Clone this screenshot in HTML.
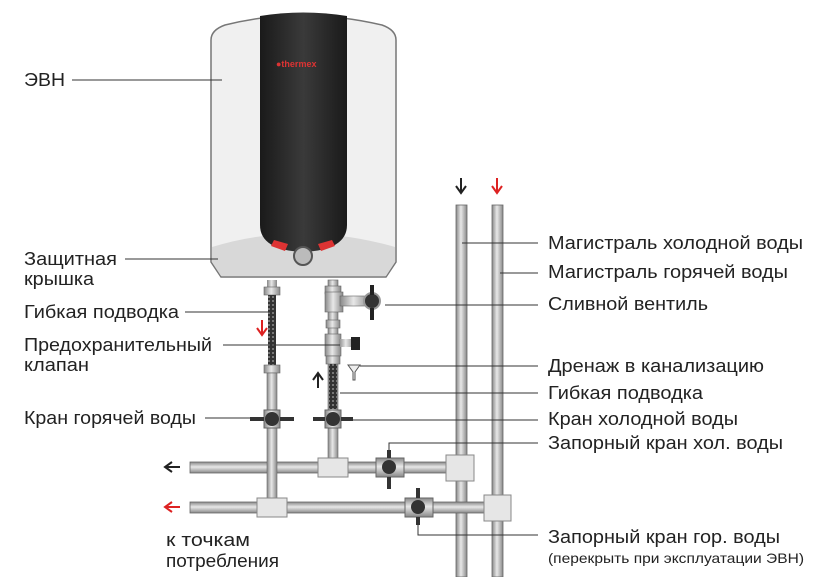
<!DOCTYPE html><html><head><meta charset="utf-8"><style>
body{margin:0;background:#fff;width:830px;height:577px;overflow:hidden}
svg{display:block}
text{font-family:"Liberation Sans",sans-serif;font-size:18px;fill:#222}
</style></head><body>
<svg width="830" height="577" viewBox="0 0 830 577">
<defs>
<linearGradient id="pv" x1="0" x2="1"><stop offset="0" stop-color="#888"/><stop offset=".45" stop-color="#e8e8e8"/><stop offset="1" stop-color="#888"/></linearGradient>
<linearGradient id="ph" x1="0" y1="0" x2="0" y2="1"><stop offset="0" stop-color="#888"/><stop offset=".45" stop-color="#e8e8e8"/><stop offset="1" stop-color="#888"/></linearGradient>
<linearGradient id="dk" x1="0" x2="1"><stop offset="0" stop-color="#1a1a1a"/><stop offset=".5" stop-color="#3a3a3a"/><stop offset="1" stop-color="#1a1a1a"/></linearGradient>
<pattern id="br" width="4" height="4" patternUnits="userSpaceOnUse"><rect width="4" height="4" fill="#333"/><rect width="2" height="2" fill="#777"/></pattern>
</defs>
<!-- heater -->
<path d="M211 40 Q211 30 225 25 Q300 6 382 25 Q396 30 396 40 L396 262 L386 277 L221 277 L211 262 Z" fill="#f0f0f0" stroke="#777" stroke-width="1.5"/>
<path d="M212 247 Q300 220 395 247 L395 262 L386 276 L221 276 L212 262 Z" fill="#d8d8d8"/>
<path d="M260 16 Q303 9 347 16 L347 225 Q347 250 303 252 Q260 250 260 225 Z" fill="url(#dk)"/>
<text x="276" y="67" style="font-size:9px;fill:#d33;font-weight:bold">●thermex</text>
<polygon points="274,240 288,244 285,251 271,246" fill="#d33"/>
<polygon points="318,244 332,240 335,246 321,251" fill="#d33"/>
<circle cx="303" cy="256" r="9" fill="#bbb" stroke="#555" stroke-width="2"/>
<!-- main pipes -->
<rect x="456" y="205" width="11" height="372" fill="url(#pv)" stroke="#666" stroke-width=".8"/>
<rect x="492" y="205" width="11" height="372" fill="url(#pv)" stroke="#666" stroke-width=".8"/>
<!-- horizontal pipes -->
<rect x="190" y="462" width="270" height="11" fill="url(#ph)" stroke="#666" stroke-width=".8"/>
<rect x="190" y="502" width="305" height="11" fill="url(#ph)" stroke="#666" stroke-width=".8"/>
<!-- hot outlet vertical -->
<rect x="267" y="280" width="10" height="8" fill="url(#pv)"/>
<rect x="264" y="287" width="16" height="8" fill="url(#pv)" stroke="#666" stroke-width=".6"/>
<rect x="268" y="295" width="8" height="72" fill="url(#br)"/>
<rect x="264" y="365" width="16" height="8" fill="url(#pv)" stroke="#666" stroke-width=".6"/>
<rect x="267" y="373" width="10" height="130" fill="url(#pv)" stroke="#666" stroke-width=".6"/>
<!-- cold inlet vertical -->
<rect x="328" y="280" width="10" height="185" fill="url(#pv)" stroke="#666" stroke-width=".6"/>
<rect x="325" y="286" width="16" height="8" fill="url(#pv)" stroke="#666" stroke-width=".6"/>
<rect x="325" y="292" width="18" height="20" fill="url(#pv)" stroke="#666" stroke-width=".6"/>
<rect x="340" y="296" width="30" height="10" fill="url(#pv)" stroke="#666" stroke-width=".6"/>
<rect x="326" y="320" width="14" height="8" fill="url(#pv)" stroke="#666" stroke-width=".6"/>
<rect x="325" y="334" width="16" height="22" fill="url(#pv)" stroke="#666" stroke-width=".6"/>
<rect x="339" y="339" width="15" height="8" fill="url(#pv)"/>
<rect x="351" y="337" width="9" height="13" fill="#222"/>
<rect x="326" y="356" width="14" height="8" fill="url(#pv)" stroke="#666" stroke-width=".6"/>
<rect x="329" y="364" width="8" height="45" fill="url(#br)"/>
<polygon points="348,365 360,365 355,372 355,380 353,380 353,372" fill="#eee" stroke="#555"/>
<!-- drain valve -->
<circle cx="372" cy="301" r="8" fill="#333" stroke="#999" stroke-width="2"/>
<rect x="370" y="285" width="4" height="10" fill="#222"/><rect x="370" y="308" width="4" height="12" fill="#222"/>
<!-- vertical valves -->
<g fill="#333"><rect x="264" y="410" width="16" height="18" fill="url(#pv)" stroke="#666"/><circle cx="272" cy="419" r="7"/><rect x="250" y="417" width="14" height="4"/><rect x="280" y="417" width="14" height="4"/>
<rect x="325" y="410" width="16" height="18" fill="url(#pv)" stroke="#666"/><circle cx="333" cy="419" r="7"/><rect x="313" y="417" width="12" height="4"/><rect x="341" y="417" width="12" height="4"/></g>
<!-- tees -->
<g fill="#e6e6e6" stroke="#888"><rect x="318" y="458" width="30" height="19"/><rect x="257" y="498" width="30" height="19"/><rect x="446" y="455" width="28" height="26"/><rect x="484" y="495" width="27" height="26"/></g>
<!-- shutoff valves -->
<g fill="#333"><rect x="376" y="458" width="28" height="19" fill="url(#ph)" stroke="#666"/><circle cx="389" cy="467" r="7"/><rect x="387" y="450" width="4" height="8"/><rect x="387" y="477" width="4" height="12"/>
<rect x="405" y="498" width="28" height="19" fill="url(#ph)" stroke="#666"/><circle cx="418" cy="507" r="7"/><rect x="416" y="488" width="4" height="10"/><rect x="416" y="517" width="4" height="8"/></g>
<!-- leader lines -->
<g stroke="#333" stroke-width="1" fill="none">
<path d="M72 80H222M125 259H218M185 312H270M223 345H340M205 418H262"/>
<path d="M462 243H538M500 273H538M385 305H538M360 366H538M340 393H538M345 420H538M389 455V443H538M418 525V535H538"/>
</g>
<!-- arrows -->
<g stroke-width="2" fill="none">
<path d="M461 178V192M456 186L461 193L466 186" stroke="#222"/>
<path d="M497 178V192M492 186L497 193L502 186" stroke="#d22"/>
<path d="M262 320V334M257 328L262 335L267 328" stroke="#d22"/>
<path d="M318 388V374M313 380L318 373L323 380" stroke="#222"/>
<path d="M180 467H166M172 462L165 467L172 472" stroke="#222"/>
<path d="M180 507H166M172 502L165 507L172 512" stroke="#d22"/>
</g>
<!-- labels -->
<text x="24" y="86" textLength="41" lengthAdjust="spacingAndGlyphs">ЭВН</text>
<text x="24" y="265" textLength="93" lengthAdjust="spacingAndGlyphs">Защитная</text><text x="24" y="285" textLength="70" lengthAdjust="spacingAndGlyphs">крышка</text>
<text x="24" y="318" textLength="155" lengthAdjust="spacingAndGlyphs">Гибкая подводка</text>
<text x="24" y="351" textLength="188" lengthAdjust="spacingAndGlyphs">Предохранительный</text><text x="24" y="371" textLength="65" lengthAdjust="spacingAndGlyphs">клапан</text>
<text x="24" y="424" textLength="172" lengthAdjust="spacingAndGlyphs">Кран горячей воды</text>
<text x="166" y="546" textLength="84" lengthAdjust="spacingAndGlyphs">к точкам</text><text x="166" y="567" textLength="113" lengthAdjust="spacingAndGlyphs">потребления</text>
<text x="548" y="249" textLength="255" lengthAdjust="spacingAndGlyphs">Магистраль холодной воды</text>
<text x="548" y="278" textLength="240" lengthAdjust="spacingAndGlyphs">Магистраль горячей воды</text>
<text x="548" y="310" textLength="160" lengthAdjust="spacingAndGlyphs">Сливной вентиль</text>
<text x="548" y="372" textLength="216" lengthAdjust="spacingAndGlyphs">Дренаж в канализацию</text>
<text x="548" y="399" textLength="155" lengthAdjust="spacingAndGlyphs">Гибкая подводка</text>
<text x="548" y="425" textLength="190" lengthAdjust="spacingAndGlyphs">Кран холодной воды</text>
<text x="548" y="449" textLength="235" lengthAdjust="spacingAndGlyphs">Запорный кран хол. воды</text>
<text x="548" y="543" textLength="232" lengthAdjust="spacingAndGlyphs">Запорный кран гор. воды</text>
<text x="548" y="563" style="font-size:14px" textLength="256" lengthAdjust="spacingAndGlyphs">(перекрыть при эксплуатации ЭВН)</text>
</svg>
</body></html>
